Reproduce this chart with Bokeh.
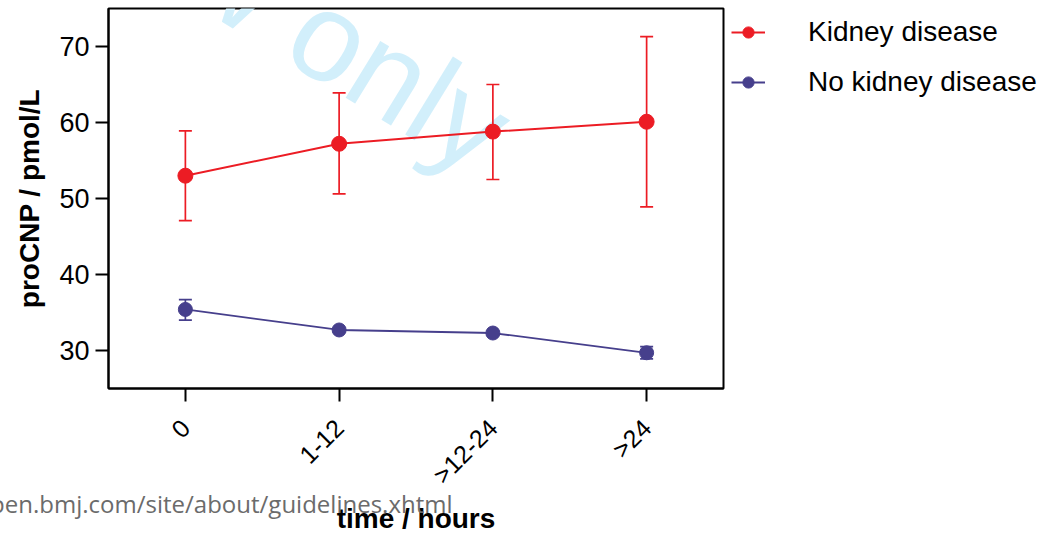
import math
from bokeh.plotting import figure
from bokeh.models import (ColumnDataSource, Range1d, FixedTicker, Whisker, TeeHead,
                          Label, Legend, LegendItem)
from bokeh.embed import file_html
from bokeh.resources import INLINE

# --- data ---------------------------------------------------------------
time_groups = ["0", "1-12", ">12-24", ">24"]

kidney_mean = [53.0, 57.2, 58.8, 60.1]
kidney_upper = [58.9, 63.9, 65.0, 71.3]
kidney_lower = [47.1, 50.6, 52.5, 48.9]

no_kidney_mean = [35.4, 32.7, 32.3, 29.7]
no_kidney_upper = [36.7, 33.0, 32.6, 30.5]
no_kidney_lower = [34.0, 32.4, 32.0, 28.9]

y_ticks = [30, 40, 50, 60, 70]

RED = "#ec1c24"
BLUE = "#463f8c"
FONT = "Liberation Sans"

p = figure(frame_width=615, frame_height=380, x_range=time_groups,
           y_range=Range1d(25, 75), output_backend="svg", toolbar_location=None,
           min_border_left=108, min_border_right=10, min_border_top=8,
           min_border_bottom=154)

p.grid.visible = False
p.outline_line_color = "black"
p.outline_line_width = 2
p.background_fill_color = "white"
p.border_fill_color = "white"

# watermark behind the data
p.add_layout(Label(x=498, y=140, x_units="canvas", y_units="canvas",
                   text="For peer review only", angle=-0.55,
                   text_align="right", text_baseline="alphabetic",
                   text_font=FONT, text_font_size="126px", text_color="#d2effb",
                   level="underlay"))
# footer line under the axis
p.add_layout(Label(x=452, y=503, x_units="canvas", y_units="canvas",
                   text="bmjopen.bmj.com/site/about/guidelines.xhtml",
                   text_align="right", text_baseline="alphabetic",
                   text_line_height=0.01,
                   text_font="Open Sans", text_font_size="24px", text_color="#6b6b6b"),
             "below")

src_k = ColumnDataSource(dict(x=time_groups, y=kidney_mean,
                              upper=kidney_upper, lower=kidney_lower))
src_n = ColumnDataSource(dict(x=time_groups, y=no_kidney_mean,
                              upper=no_kidney_upper, lower=no_kidney_lower))

for src, col in ((src_k, RED), (src_n, BLUE)):
    w = Whisker(base="x", upper="upper", lower="lower", source=src,
                line_color=col, line_width=1.7,
                upper_head=TeeHead(size=13, line_color=col, line_width=1.7),
                lower_head=TeeHead(size=13, line_color=col, line_width=1.7))
    p.add_layout(w)

lk = p.line("x", "y", source=src_k, line_color=RED, line_width=2)
sk = p.scatter("x", "y", source=src_k, size=15, fill_color=RED, line_color=RED)
ln = p.line("x", "y", source=src_n, line_color=BLUE, line_width=1.8)
sn = p.scatter("x", "y", source=src_n, size=14, fill_color=BLUE, line_color=BLUE)

# axes
p.yaxis.ticker = FixedTicker(ticks=y_ticks)
p.yaxis.axis_label = "proCNP / pmol/L"
p.xaxis.axis_label = "time / hours"
for ax in (p.xaxis[0], p.yaxis[0]):
    ax.axis_line_width = 2
    ax.axis_line_color = "black"
    ax.major_tick_line_width = 2
    ax.major_tick_in = 0
    ax.major_tick_out = 13
    ax.minor_tick_line_color = None
    ax.major_label_text_font = FONT
    ax.major_label_text_color = "black"
    ax.axis_label_text_font = FONT
    ax.axis_label_text_font_style = "bold"
    ax.axis_label_text_color = "black"
    ax.axis_label_text_font_size = "28px"
p.yaxis.major_label_text_font_size = "27px"
p.yaxis.major_label_standoff = 6
p.yaxis.axis_label_standoff = 11
p.xaxis.major_label_text_font_size = "25px"
p.xaxis.major_label_orientation = math.pi / 4
p.xaxis.major_label_standoff = 22
p.xaxis.axis_label_standoff = 1

# legend in the right-hand panel
lg = Legend(items=[LegendItem(label="Kidney disease", renderers=[lk, sk]),
                   LegendItem(label="No kidney disease", renderers=[ln, sn])],
            location="top_left", orientation="vertical",
            background_fill_alpha=0, border_line_color=None,
            padding=0, margin=8, spacing=18,
            glyph_width=34, glyph_height=28, label_height=28, label_standoff=43,
            label_text_font=FONT, label_text_font_size="28px", label_text_color="black")
p.add_layout(lg, "right")

open("out.html", "w").write(file_html(p, INLINE))
